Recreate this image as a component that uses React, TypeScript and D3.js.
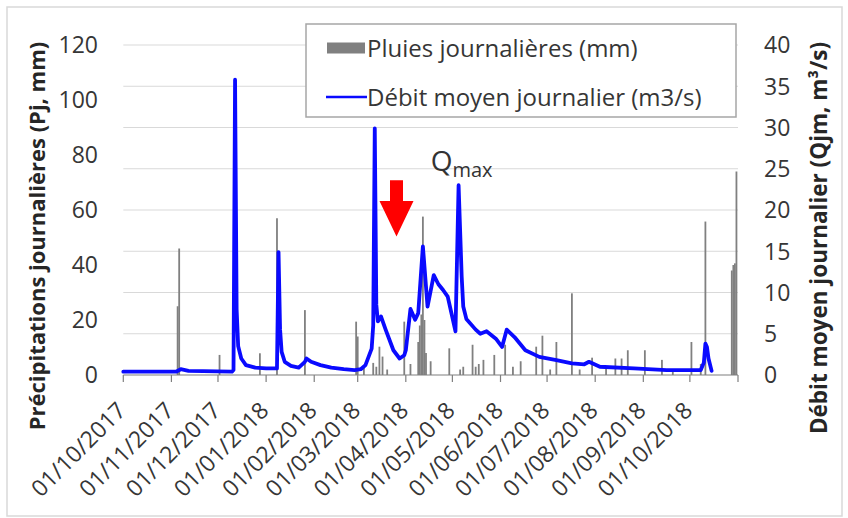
import * as d3 from "d3";

const parse = d3.timeParse("%Y-%m-%d");

// x axis: monthly ticks (last one is unlabeled)
const monthTicks = [
  "2017-10-01", "2017-11-01", "2017-12-01", "2018-01-01", "2018-02-01",
  "2018-03-01", "2018-04-01", "2018-05-01", "2018-06-01", "2018-07-01",
  "2018-08-01", "2018-09-01", "2018-10-01", "2018-11-01",
];
const monthLabels = [
  "01/10/2017", "01/11/2017", "01/12/2017", "01/01/2018", "01/02/2018",
  "01/03/2018", "01/04/2018", "01/05/2018", "01/06/2018", "01/07/2018",
  "01/08/2018", "01/09/2018", "01/10/2018",
];
const rainTicks = [0, 20, 40, 60, 80, 100, 120];
const flowTicks = [0, 5, 10, 15, 20, 25, 30, 35, 40];

// daily rainfall (mm)
const rainDates = [
  "2017-11-05", "2017-11-06", "2017-12-02", "2017-12-28", "2018-01-08",
  "2018-01-26", "2018-02-28", "2018-03-01", "2018-03-05", "2018-03-11",
  "2018-03-13", "2018-03-15", "2018-03-17", "2018-03-20", "2018-03-31",
  "2018-04-04", "2018-04-09", "2018-04-10", "2018-04-11", "2018-04-12",
  "2018-04-13", "2018-04-14", "2018-04-17", "2018-04-29", "2018-05-06",
  "2018-05-08", "2018-05-14", "2018-05-16", "2018-05-18", "2018-05-21",
  "2018-05-28", "2018-06-04", "2018-06-09", "2018-06-14", "2018-06-24",
  "2018-06-28", "2018-07-03", "2018-07-07", "2018-07-17", "2018-07-22",
  "2018-07-30", "2018-08-08", "2018-08-14", "2018-08-18", "2018-08-22",
  "2018-09-02", "2018-09-13", "2018-09-20", "2018-10-02", "2018-10-08",
  "2018-10-11", "2018-10-28", "2018-10-29", "2018-10-30", "2018-10-31",
];
const rainValues = [
  25, 46, 7.3, 7.9, 57,
  23.6, 19.4, 14, 3, 4.4,
  3, 10.3, 6.7, 2, 19.4,
  4, 12, 18, 22, 57.6,
  20, 8, 5, 9.7, 2,
  3, 11, 3, 4, 5.5,
  7.3, 11, 3, 5, 10.3,
  14.3, 2, 12, 29.7, 2,
  6.3, 3, 6, 6, 9,
  9, 5.5, 2, 12, 4,
  55.8, 38, 40, 40.6, 74,
];

// daily mean discharge (m3/s)
const flowDates = [
  "2017-10-01", "2017-10-15", "2017-11-04", "2017-11-07", "2017-11-12",
  "2017-12-10", "2017-12-11", "2017-12-12", "2017-12-13", "2017-12-14",
  "2017-12-16", "2017-12-19", "2017-12-25", "2018-01-01", "2018-01-08",
  "2018-01-09", "2018-01-10", "2018-01-11", "2018-01-13", "2018-01-17",
  "2018-01-22", "2018-01-26", "2018-01-27", "2018-01-30", "2018-02-05",
  "2018-02-12", "2018-02-20", "2018-02-27", "2018-03-03", "2018-03-06",
  "2018-03-08", "2018-03-10", "2018-03-11", "2018-03-12", "2018-03-13",
  "2018-03-14", "2018-03-16", "2018-03-19", "2018-03-24", "2018-03-28",
  "2018-03-31", "2018-04-01", "2018-04-04", "2018-04-07", "2018-04-09",
  "2018-04-12", "2018-04-15", "2018-04-19", "2018-04-22", "2018-04-25",
  "2018-04-28", "2018-05-03", "2018-05-05", "2018-05-07", "2018-05-08",
  "2018-05-10", "2018-05-16", "2018-05-19", "2018-05-23", "2018-05-29",
  "2018-06-02", "2018-06-05", "2018-06-10", "2018-06-17", "2018-06-26",
  "2018-07-07", "2018-07-17", "2018-07-25", "2018-07-28", "2018-08-04",
  "2018-08-26", "2018-09-16", "2018-10-08", "2018-10-10", "2018-10-11",
  "2018-10-12", "2018-10-13", "2018-10-15",
];
const flowValues = [
  0.4, 0.4, 0.4, 0.7, 0.5,
  0.4, 0.6, 35.8, 8, 3.5,
  2.0, 1.2, 0.9, 0.8, 0.8,
  14.9, 5.5, 2.8, 1.6, 1.1,
  0.9, 1.6, 2.0, 1.6, 1.2,
  0.9, 0.7, 0.6, 0.7, 1.2,
  2.2, 3.2, 6, 29.9, 8.5,
  6.5, 7.1, 5.5, 3.0, 2.0,
  2.4, 3.0, 8.0, 6.7, 7.5,
  15.6, 8.3, 12.1, 11.0, 10.3,
  9.5, 5.3, 23.0, 11.9, 8.3,
  6.8, 5.5, 5.0, 5.3, 4.4,
  3.4, 5.5, 4.6, 3.0, 2.2,
  1.8, 1.4, 1.3, 1.6, 1.0,
  0.8, 0.6, 0.6, 1.5, 3.8,
  3.4, 2.0, 0.5,
];

// annotations (date, discharge units)
const arrowDate = "2018-03-26";
const arrowTop = 23.6;
const arrowNeck = 21.1;
const arrowTip = 16.8;
const qmaxDate = "2018-04-17";
const qmaxLevel = 26;

const W = 848;
const H = 518;
const plot = { left: 123.3, right: 738, top: 45, bottom: 375 };
const FONT = "'Open Sans', sans-serif";
const TEXT = "#363636";

export default function App() {
  const x = d3
    .scaleTime()
    .domain([parse(monthTicks[0])!, parse(monthTicks[monthTicks.length - 1])!])
    .range([plot.left, plot.right]);
  const yRain = d3.scaleLinear().domain([0, 120]).range([plot.bottom, plot.top]);
  const yFlow = d3.scaleLinear().domain([0, 40]).range([plot.bottom, plot.top]);

  const flow = flowDates.map((d, i) => ({ date: parse(d)!, value: flowValues[i] }));
  const rain = rainDates.map((d, i) => ({ date: parse(d)!, value: rainValues[i] }));

  const line = d3
    .line<{ date: Date; value: number }>()
    .x((d) => x(d.date))
    .y((d) => yFlow(d.value));

  const barW = 1.8;

  const ax = x(parse(arrowDate)!);
  const arrowPts = [
    [ax - 6.5, yFlow(arrowTop)],
    [ax + 6.5, yFlow(arrowTop)],
    [ax + 6.5, yFlow(arrowNeck)],
    [ax + 17, yFlow(arrowNeck)],
    [ax, yFlow(arrowTip)],
    [ax - 17, yFlow(arrowNeck)],
    [ax - 6.5, yFlow(arrowNeck)],
  ]
    .map((p) => p.join(","))
    .join(" ");

  return (
    <div style={{ position: "fixed", left: 0, top: 0 }}>
      <svg width={W} height={H} style={{ display: "block", background: "#fff" }} fontFamily={FONT}>
        <rect x={7} y={7} width={835} height={509} fill="#fff" stroke="#d9d9d9" strokeWidth={1.5} />

        {/* gridlines follow the discharge axis */}
        {flowTicks.slice(1).map((t) => (
          <line key={t} x1={plot.left} x2={plot.right} y1={yFlow(t)} y2={yFlow(t)} stroke="#d9d9d9" strokeWidth={1.2} />
        ))}

        {/* rainfall bars */}
        {rain.map((d, i) => (
          <rect
            key={i}
            x={x(d.date) - barW / 2}
            y={yRain(d.value)}
            width={barW}
            height={plot.bottom - yRain(d.value)}
            fill="#808080"
          />
        ))}

        {/* x axis */}
        <line x1={plot.left} x2={plot.right} y1={plot.bottom} y2={plot.bottom} stroke="#7f7f7f" strokeWidth={1.2} />
        {monthTicks.map((m) => (
          <line key={m} x1={x(parse(m)!)} x2={x(parse(m)!)} y1={plot.bottom} y2={plot.bottom + 7} stroke="#7f7f7f" strokeWidth={1.2} />
        ))}
        {monthLabels.map((lab, i) => (
          <text
            key={lab}
            transform={`translate(${x(parse(monthTicks[i])!) + 4},${412}) rotate(-45)`}
            textAnchor="end"
            fontSize={23}
            fill={TEXT}
          >
            {lab}
          </text>
        ))}

        {/* discharge line */}
        <path d={line(flow) ?? ""} fill="none" stroke="#0a0aff" strokeWidth={3.8} strokeLinejoin="round" strokeLinecap="round" />

        {/* left axis labels */}
        {rainTicks.map((t) => (
          <text key={t} x={98} y={yRain(t)} dy="0.36em" textAnchor="end" fontSize={23} fill={TEXT}>
            {t}
          </text>
        ))}
        {/* right axis labels */}
        {flowTicks.map((t) => (
          <text key={t} x={764} y={yFlow(t)} dy="0.36em" textAnchor="start" fontSize={23} fill={TEXT}>
            {t}
          </text>
        ))}

        {/* axis titles */}
        <text
          transform={`translate(45,236) rotate(-90)`}
          textAnchor="middle"
          fontSize={22}
          fontWeight="bold"
          fill="#262626"
        >
          Précipitations journalières (Pj, mm)
        </text>
        <text
          transform={`translate(827,238) rotate(-90)`}
          textAnchor="middle"
          fontSize={22.5}
          fontWeight="bold"
          fill="#262626"
        >
          Débit moyen journalier (Qjm, m³/s)
        </text>

        {/* annotations */}
        <polygon points={arrowPts} fill="#ff0000" />
        <text x={x(parse(qmaxDate)!)} y={yFlow(qmaxLevel) + 10} fontSize={28} fill="#333">
          Q
          <tspan fontSize={20} dy={6}>max</tspan>
        </text>

        {/* legend */}
        <rect x={306} y={24} width={430} height={93} fill="#fff" stroke="#a6a6a6" strokeWidth={1.5} />
        <rect x={327} y={42.5} width={38} height={11} fill="#808080" />
        <text x={367} y={57} fontSize={24} fill={TEXT}>
          Pluies journalières (mm)
        </text>
        <line x1={326} x2={367} y1={97} y2={97} stroke="#0a0aff" strokeWidth={2.5} />
        <text x={367} y={106} fontSize={24} fill={TEXT}>
          Débit moyen journalier (m3/s)
        </text>
      </svg>
    </div>
  );
}
